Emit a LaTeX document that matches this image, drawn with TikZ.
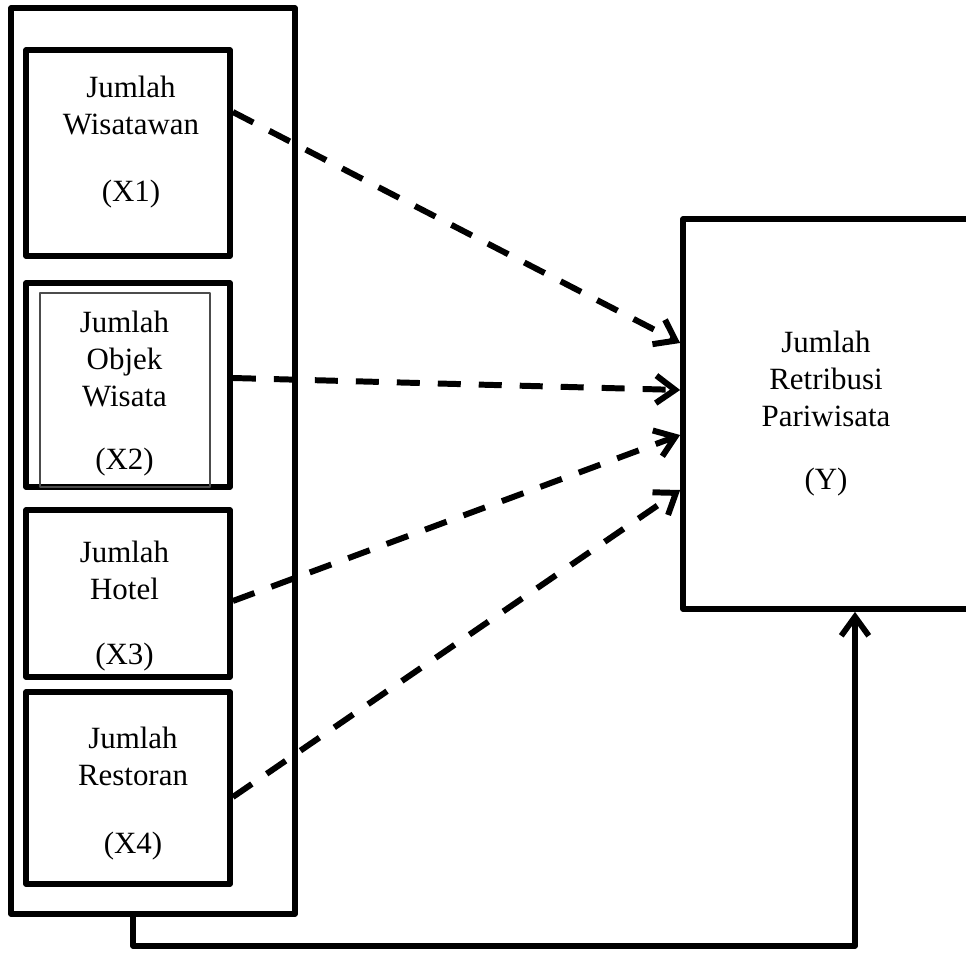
\documentclass[tikz,border=0pt]{standalone}
\usepackage{fontspec}
\setmainfont{Liberation Serif}
\usetikzlibrary{arrows.meta,calc}
\tikzset{
  every picture/.style={line join=round, line cap=round, >=Stealth},
  frame/.style={draw, line width=3.3pt, inner sep=0pt},
  lbl/.style={align=center, anchor=north, inner sep=0pt, font=\fontsize{17.6}{21}\selectfont},
  dashline/.style={line width=3.4pt, dash pattern=on 0.46cm off 0.36cm, line cap=butt},
  conn/.style={line width=3.3pt},
  barb/.style={-{Straight Barb[length=0.38cm,width=0.55cm]}},
}

\begin{document}
\begin{tikzpicture}[x=0.02cm,y=-0.02cm]
\useasboundingbox (0,0) rectangle (965,976);
% kotak variabel bebas
\node[frame, minimum width=5.68cm, minimum height=18.12cm] (outer) at (153,461) {};
\node[frame, minimum width=4.08cm, minimum height=4.12cm] (x1) at (128,153) {};
\node[frame, minimum width=4.08cm, minimum height=4.08cm] (x2) at (128,385) {};
\node[draw=black!70, line width=0.6pt, inner sep=0pt, minimum width=3.4cm, minimum height=3.88cm] (x2in) at (125,390) {};
\node[frame, minimum width=4.08cm, minimum height=3.34cm] (x3) at (128,593.5) {};
\node[frame, minimum width=4.08cm, minimum height=3.84cm] (x4) at (128,788) {};
% kotak variabel terikat
\node[frame, minimum width=5.74cm, minimum height=7.8cm] (yb) at (826.5,414) {};
% teks
\node[lbl] (t1) at (131,76) {Jumlah\\Wisatawan\\[17pt](X1)};
\node[lbl] (t2) at (124.5,311) {Jumlah\\Objek\\Wisata\\[15pt](X2)};
\node[lbl] (t3) at (124.5,541) {Jumlah\\Hotel\\[16pt](X3)};
\node[lbl] (t4) at (133,727) {Jumlah\\Restoran\\[17.5pt](X4)};
\node[lbl] (ty) at (826,331) {Jumlah\\Retribusi\\Pariwisata\\[15pt](Y)};
% panah
\draw[dashline, barb] ($(x1.east)+(0,-41)$) -- ($(yb.west)+(0,-71)$);
\draw[dashline, barb] ($(x2.east)+(0,-7)$) -- ($(yb.west)+(0,-24)$);
\draw[dashline, barb] ($(x3.east)+(0,7.5)$) -- ($(yb.west)+(0,21)$);
\draw[dashline, barb] ($(x4.east)+(0,9)$) -- ($(yb.west)+(0,76)$);
\draw[conn, barb] ($(outer.south)+(-20,0)$) -- ++(0,29) -| ($(yb.south)+(28.5,0)$);
\end{tikzpicture}
\end{document}
